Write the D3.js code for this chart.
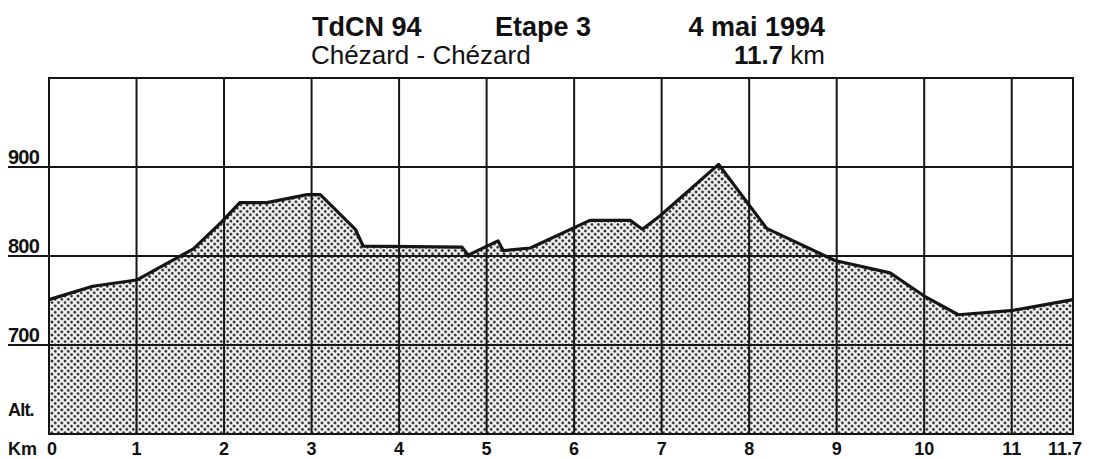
<!DOCTYPE html>
<html lang="fr">
<head>
  <meta charset="UTF-8">
  <script src="https://d3js.org/d3.v7.min.js"></script>
  <title>TdCN 94 Etape 3</title>
  <style>
    body { margin: 0; background: #fff; }
    svg text { font-family: "Liberation Sans", Arial, sans-serif; fill: #111; }
    .grid line { stroke: #151515; stroke-width: 2px; }
    .profile { fill: none; stroke: #151515; stroke-width: 3.2px; stroke-linejoin: round; }
  </style>
</head>
<body>
  <svg width="1097" height="459"></svg>

  <script>
    const width = 1097, height = 459;

    // profile (distance km / altitude m)
    const distKm = [0, 0.5, 1, 1.65, 1.97, 2.18, 2.49, 2.95, 3.1, 3.5, 3.59, 4.72, 4.79, 4.98, 5.13, 5.19, 5.5, 6.18, 6.64, 6.78, 6.98, 7.65, 8.2, 8.98, 9.61, 10.0, 10.39, 11.02, 11.7];
    const altM   = [751, 766, 773, 808, 838, 860, 860, 869, 869, 830, 811, 810, 801, 810, 817, 806, 809, 840, 840, 830, 845, 903, 831, 795, 781, 755, 734, 739, 751];

    const kmTicks = [0, 1, 2, 3, 4, 5, 6, 7, 8, 9, 10, 11, 11.7];
    const altTicks = [700, 800, 900];

    const titleRow1 = ["TdCN 94", "Etape 3", "4 mai 1994"];
    const titleRow2 = ["Chézard - Chézard", "11.7", "km"];

    const svg = d3.select("svg");

    const x = d3.scaleLinear().domain([0, 11.7]).range([49, 1073]);
    const y = d3.scaleLinear().domain([600, 1000]).range([434, 78]);

    // dotted screen like the newspaper print
    const defs = svg.append("defs");
    const pat = defs.append("pattern")
      .attr("id", "dots")
      .attr("patternUnits", "userSpaceOnUse")
      .attr("width", 4.6).attr("height", 4.6)
      .attr("patternTransform", "rotate(45)");
    pat.append("rect").attr("width", 4.6).attr("height", 4.6).attr("fill", "#f2f2f2");
    pat.append("circle").attr("cx", 2.3).attr("cy", 2.3).attr("r", 1.4).attr("fill", "#262626");

    const points = distKm.map((d, i) => [d, altM[i]]);

    const area = d3.area()
      .x(d => x(d[0]))
      .y0(y(600))
      .y1(d => y(d[1]));

    const line = d3.line()
      .x(d => x(d[0]))
      .y(d => y(d[1]));

    svg.append("path")
      .datum(points)
      .attr("d", area)
      .attr("fill", "url(#dots)");

    // grid on top of the fill
    const grid = svg.append("g").attr("class", "grid");

    grid.selectAll("line.v")
      .data(kmTicks)
      .enter()
      .append("line")
      .attr("class", "v")
      .attr("x1", d => x(d)).attr("x2", d => x(d))
      .attr("y1", y(1000)).attr("y2", y(600));

    grid.selectAll("line.h")
      .data(altTicks)
      .enter()
      .append("line")
      .attr("class", "h")
      .attr("x1", 8).attr("x2", x(11.7))
      .attr("y1", d => y(d)).attr("y2", d => y(d));

    grid.selectAll("line.frame")
      .data([1000, 600])
      .enter()
      .append("line")
      .attr("class", "frame")
      .attr("x1", x(0) - 1).attr("x2", x(11.7) + 1)
      .attr("y1", d => y(d)).attr("y2", d => y(d));

    svg.append("path")
      .datum(points)
      .attr("class", "profile")
      .attr("d", line);

    // altitude labels sit on the line, left of the frame
    svg.selectAll("text.alt")
      .data(altTicks)
      .enter()
      .append("text")
      .attr("class", "alt")
      .attr("x", 8)
      .attr("y", d => y(d) - 3)
      .style("font-size", "20px")
      .style("font-weight", "bold")
      .style("letter-spacing", "-0.8px")
      .text(d => d);

    svg.append("text")
      .attr("x", 8).attr("y", 416)
      .style("font-size", "18px")
      .style("font-weight", "bold")
      .style("letter-spacing", "-0.8px")
      .text("Alt.");

    svg.append("text")
      .attr("x", 8).attr("y", 455)
      .style("font-size", "18px")
      .style("font-weight", "bold")
      .text("Km");

    svg.selectAll("text.km")
      .data(kmTicks)
      .enter()
      .append("text")
      .attr("class", "km")
      .attr("x", d => x(d) + (d === 0 ? 3 : d === 11.7 ? -8 : 0))
      .attr("y", 455)
      .attr("text-anchor", "middle")
      .style("font-size", "18px")
      .style("font-weight", "bold")
      .text(d => d);

    // header
    const t1 = svg.append("g").style("font-size", "27px").style("font-weight", "bold");
    t1.append("text").attr("x", 312).attr("y", 36).text(titleRow1[0]);
    t1.append("text").attr("x", 495).attr("y", 36).text(titleRow1[1]);
    t1.append("text").attr("x", 825).attr("y", 36).attr("text-anchor", "end").text(titleRow1[2]);

    svg.append("text")
      .attr("x", 311).attr("y", 64)
      .style("font-size", "26px")
      .text(titleRow2[0]);

    const t2 = svg.append("text")
      .attr("x", 825).attr("y", 64)
      .attr("text-anchor", "end")
      .style("font-size", "26px");
    t2.append("tspan").style("font-weight", "bold").text(titleRow2[1] + " ");
    t2.append("tspan").text(titleRow2[2]);
  </script>
</body>
</html>
